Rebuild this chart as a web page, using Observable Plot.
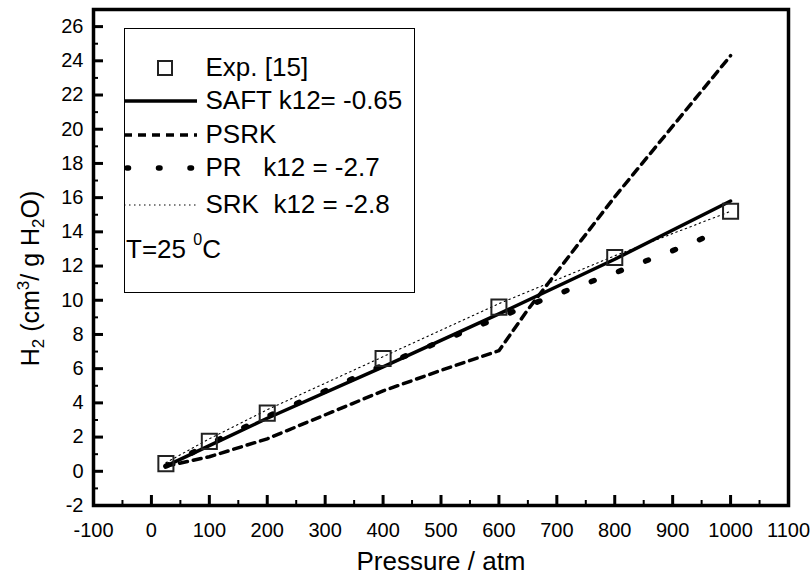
<!DOCTYPE html>
<html>
<head>
<meta charset="utf-8">
<script src="https://cdn.jsdelivr.net/npm/d3@7"></script>
<script src="https://cdn.jsdelivr.net/npm/@observablehq/plot@0.6"></script>
<style>
  body { margin: 0; background: #fff; font-family: "Liberation Sans", Arial, sans-serif; }
  #wrap { position: relative; width: 812px; height: 579px; }
  #legend { position: absolute; left: 124px; top: 28px; width: 289px; height: 263px; border: 1.5px solid #000; background: #fff; }
  .row { position: absolute; left: -1.5px; height: 34px; display: flex; align-items: center; font-size: 26px; color: #000; white-space: nowrap; }
  .row svg { flex: none; }
  .row sup { font-size: 16px; vertical-align: 0; position: relative; top: -10px; }
</style>
</head>
<body>
<div id="wrap"></div>
<script>
// ---- data ----
const expP  = [25, 100, 200, 400, 600, 800, 1000];
const expH  = [0.45, 1.75, 3.4, 6.6, 9.6, 12.5, 15.2];

const saftP = [25, 100, 200, 400, 600, 800, 1000];
const saftH = [0.3, 1.5, 3.1, 6.1, 9.2, 12.4, 15.8];

const psrkP = [25, 100, 200, 300, 400, 500, 600, 650, 700, 800, 1000];
const psrkH = [0.3, 0.85, 1.9, 3.3, 4.7, 5.9, 7.05, 9.45, 11.65, 16.05, 24.3];

const prP   = [25, 100, 200, 300, 400, 500, 600, 700, 800, 900, 965];
const prH   = [0.3, 1.6, 3.2, 4.7, 6.2, 7.6, 9.0, 10.35, 11.6, 12.9, 13.8];

const srkP  = [25, 100, 200, 400, 600, 800, 1000];
const srkH  = [0.5, 1.9, 3.6, 6.7, 9.8, 12.6, 15.2];

const xTicks = [-100, 0, 100, 200, 300, 400, 500, 600, 700, 800, 900, 1000, 1100];
const xMinor = [-50, 50, 150, 250, 350, 450, 550, 650, 750, 850, 950, 1050];
const yTicks = [-2, 0, 2, 4, 6, 8, 10, 12, 14, 16, 18, 20, 22, 24, 26];
const yMinor = [-1, 1, 3, 5, 7, 9, 11, 13, 15, 17, 19, 21, 23, 25];

const xLabel = "Pressure / atm";
const yLabel = "H2 (cm3/ g H2O)";

const legendItems = [
  {key: "exp",  label: "Exp. [15]"},
  {key: "saft", label: "SAFT k12= -0.65"},
  {key: "psrk", label: "PSRK"},
  {key: "pr",   label: "PR&nbsp;&nbsp;&nbsp;k12 = -2.7"},
  {key: "srk",  label: "SRK&nbsp;&nbsp;k12 = -2.8"}
];

const zip = (P, V) => P.map((p, i) => ({p, h: V[i]}));
const expData = zip(expP, expH), saft = zip(saftP, saftH), psrk = zip(psrkP, psrkH),
      pr = zip(prP, prH), srk = zip(srkP, srkH);

const styles = {
  saft: {stroke: "#000", strokeWidth: 3.5},
  psrk: {stroke: "#000", strokeWidth: 3.5, strokeDasharray: "8,6"},
  pr:   {stroke: "#000", strokeWidth: 5.5, strokeDasharray: "3,26", strokeLinecap: "round"},
  srk:  {stroke: "#000", strokeWidth: 1.1, strokeDasharray: "1.5,3.5"}
};

const fmt = d => String(d);

const chart = Plot.plot({
  width: 812, height: 579,
  marginLeft: 93, marginRight: 24, marginTop: 9, marginBottom: 74,
  style: {fontFamily: "'Liberation Sans', Arial, sans-serif"},
  x: {domain: [-100, 1100]},
  y: {domain: [-2, 27]},
  marks: [
    // inward tick marks
    Plot.axisX(xMinor, {tickSize: -5, stroke: "#000", strokeWidth: 2, tickFormat: () => "", label: null}),
    Plot.axisX(xTicks, {tickSize: -10, stroke: "#000", strokeWidth: 3, tickFormat: () => "", label: null}),
    Plot.axisY(yMinor, {tickSize: -5, stroke: "#000", strokeWidth: 2, tickFormat: () => "", label: null}),
    Plot.axisY(yTicks, {tickSize: -10, stroke: "#000", strokeWidth: 3, tickFormat: () => "", label: null}),
    // tick labels
    Plot.axisX(xTicks, {tickSize: 0, tickPadding: 17, fontSize: 20, tickFormat: fmt, label: null}),
    Plot.axisY(yTicks, {tickSize: 0, tickPadding: 10, fontSize: 20, tickFormat: fmt, label: null}),
    // curves
    Plot.line(psrk, {x: "p", y: "h", ...styles.psrk}),
    Plot.line(srk,  {x: "p", y: "h", ...styles.srk}),
    Plot.line(pr,   {x: "p", y: "h", ...styles.pr}),
    Plot.line(saft, {x: "p", y: "h", ...styles.saft}),
    Plot.dot(expData, {x: "p", y: "h", symbol: "square", r: 8.5, stroke: "#222", strokeWidth: 2, fill: "none"}),
    Plot.frame({stroke: "#000", strokeWidth: 3.5}),
    // axis titles
    Plot.text([xLabel], {text: d => d, frameAnchor: "bottom", textAnchor: "middle", dy: 64, fontSize: 26}),
    Plot.text([yLabel], {text: d => d, frameAnchor: "left", textAnchor: "middle", dx: -63, dy: 21, rotate: -90, fontSize: 25})
  ]
});

// sub/superscripts in the y-axis title
d3.select(chart).selectAll("text").filter(function() { return this.textContent === yLabel; })
  .html('H<tspan dy="5" font-size="17">2</tspan><tspan dy="-5"> (cm</tspan><tspan dy="-10" font-size="17">3</tspan><tspan dy="10">/ g H</tspan><tspan dy="5" font-size="17">2</tspan><tspan dy="-5">O)</tspan>');

const wrap = document.getElementById("wrap");
wrap.appendChild(chart);

// legend (inside the plot frame)
const legend = document.createElement("div");
legend.id = "legend";
wrap.appendChild(legend);
const rowCenters = [38.5, 71.5, 105.5, 138.5, 175.5];
legendItems.forEach((item, i) => {
  const row = document.createElement("div");
  row.className = "row";
  row.style.top = (rowCenters[i] - 17) + "px";
  const sw = d3.create("svg").attr("width", 82).attr("height", 34);
  if (item.key === "exp") {
    sw.append("rect").attr("x", 34).attr("y", 10).attr("width", 14).attr("height", 14)
      .attr("fill", "none").attr("stroke", "#222").attr("stroke-width", 2);
  } else {
    const s = styles[item.key];
    const ln = sw.append("line").attr("x1", item.key === "pr" ? 3 : 0).attr("x2", item.key === "pr" ? 70 : 73)
      .attr("y1", 17).attr("y2", 17)
      .attr("stroke", s.stroke).attr("stroke-width", s.strokeWidth);
    if (s.strokeDasharray) ln.attr("stroke-dasharray", item.key === "pr" ? "1.5,30" : s.strokeDasharray);
    if (s.strokeLinecap) ln.attr("stroke-linecap", s.strokeLinecap);
  }
  row.appendChild(sw.node());
  const t = document.createElement("span");
  t.innerHTML = item.label;
  row.appendChild(t);
  legend.appendChild(row);
});
const tRow = document.createElement("div");
tRow.className = "row";
tRow.style.top = (220.5 - 17) + "px";
tRow.style.left = "1px";
tRow.innerHTML = "T=25&nbsp;<sup>0</sup>C";
legend.appendChild(tRow);
</script>
</body>
</html>
